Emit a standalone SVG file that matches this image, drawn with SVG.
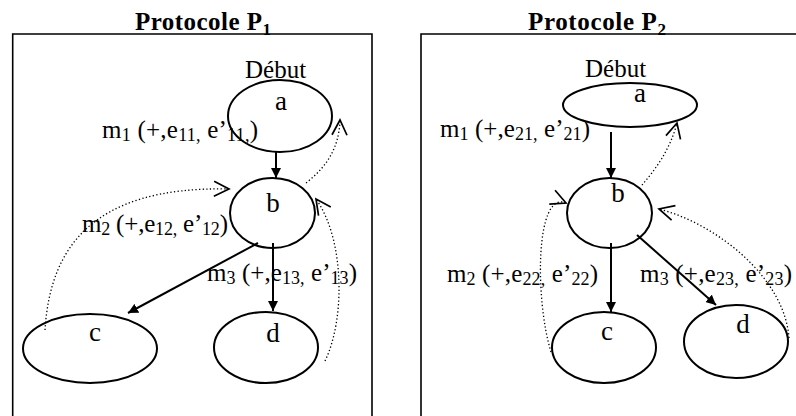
<svg xmlns="http://www.w3.org/2000/svg" width="796" height="416" viewBox="0 0 796 416">
<style>
  .frame { fill: none; stroke: #000; stroke-width: 1.6; }
  .node ellipse { fill: none; stroke: #000; stroke-width: 2; }
  .node text { font-family: "Liberation Serif", "Times New Roman", serif; font-size: 27px; fill: #000; text-anchor: middle; }
  .title { font-family: "Liberation Serif", "Times New Roman", serif; font-size: 25px; font-weight: bold; fill: #000; }
  .title .s { font-size: 17px; }
  .lbl { font-family: "Liberation Serif", "Times New Roman", serif; font-size: 25px; fill: #000; }
  .lbl .s { font-size: 18px; }
  .solid { fill: none; stroke: #000; stroke-width: 2; marker-end: url(#fa); }
  .dot { fill: none; stroke: #000; stroke-width: 1.3; stroke-dasharray: 1.3 2.3; marker-end: url(#oa); }
</style>
<defs>
  <marker id="fa" viewBox="0 0 10 10" refX="10" refY="5" markerWidth="10" markerHeight="10" markerUnits="userSpaceOnUse" orient="auto">
    <path d="M0,0 L10,5 L0,10 Z" fill="#000"/>
  </marker>
  <marker id="oa" viewBox="-16 -9 18 18" refX="0" refY="0" markerWidth="18" markerHeight="18" markerUnits="userSpaceOnUse" orient="auto">
    <path d="M-15,-7.5 L0,0 L-15,7.5" fill="none" stroke="#000" stroke-width="1.7" stroke-dasharray="none"/>
  </marker>
</defs>

<!-- frames and titles -->
<g id="panel1-frame">
  <path class="frame" d="M12.7,420 L12.7,34 L372,34 L372,420"/>
  <text class="title" x="135" y="30" textLength="136" lengthAdjust="spacing">Protocole P<tspan class="s" dy="5">1</tspan></text>
</g>
<g id="panel2-frame">
  <path class="frame" d="M421,420 L421,34 L800,34"/>
  <text class="title" x="528" y="30" textLength="138" lengthAdjust="spacing">Protocole P<tspan class="s" dy="5">2</tspan></text>
</g>

<!-- Protocole P1 nodes -->
<g id="p1-debut"><text class="lbl" x="245" y="78">Début</text></g>
<g id="p1-a" class="node"><ellipse cx="280" cy="116" rx="52" ry="36"/><text x="281" y="110">a</text></g>
<g id="p1-b" class="node"><ellipse cx="272.5" cy="213" rx="42.5" ry="35"/><text x="273" y="212">b</text></g>
<g id="p1-c" class="node"><ellipse cx="90" cy="348.5" rx="67" ry="34.5"/><text x="95" y="341">c</text></g>
<g id="p1-d" class="node"><ellipse cx="266" cy="347.5" rx="52" ry="35.5"/><text x="273" y="342">d</text></g>

<!-- Protocole P2 nodes -->
<g id="p2-debut"><text class="lbl" x="585" y="77">Début</text></g>
<g id="p2-a" class="node"><ellipse cx="630" cy="105" rx="67" ry="22"/><text x="640" y="102">a</text></g>
<g id="p2-b" class="node"><ellipse cx="609.5" cy="213" rx="42.5" ry="35"/><text x="618" y="202">b</text></g>
<g id="p2-c" class="node"><ellipse cx="604" cy="347.5" rx="52" ry="35.5"/><text x="607" y="340">c</text></g>
<g id="p2-d" class="node"><ellipse cx="736" cy="341.5" rx="52" ry="36.5"/><text x="743" y="333">d</text></g>

<!-- connectors -->
<g id="connectors">
  <!-- P1 -->
  <line class="solid" x1="276" y1="152" x2="276" y2="178"/>
  <line class="solid" x1="258" y1="243" x2="128" y2="313"/>
  <line class="solid" x1="273" y1="243" x2="273" y2="311"/>
  <path class="dot" d="M306,183 C325,168 339,150 340,120"/>
  <path class="dot" d="M45,330 C50,250 90,186 229,189"/>
  <path class="dot" d="M325,361 C345,320 345,240 316,199"/>
  <!-- P2 -->
  <line class="solid" x1="611" y1="132" x2="611" y2="178"/>
  <line class="solid" x1="611" y1="243" x2="611" y2="312"/>
  <line class="solid" x1="637" y1="235" x2="716" y2="305"/>
  <path class="dot" d="M642,185 C655,170 670,150 677,123"/>
  <path class="dot" d="M551,352 C535,300 535,190 566,203"/>
  <path class="dot" d="M789,338 C785,280 720,225 659,209"/>
</g>

<!-- connector labels -->
<g id="labels">
  <text class="lbl" x="102" y="138" textLength="156" lengthAdjust="spacing">m<tspan class="s" dy="3">1</tspan><tspan dy="-3"> (+,e</tspan><tspan class="s" dy="3">11,</tspan><tspan dy="-3"> e’</tspan><tspan class="s" dy="3">11,</tspan><tspan dy="-3">)</tspan></text>
  <text class="lbl" x="82" y="232" textLength="146" lengthAdjust="spacing">m<tspan class="s" dy="3">2</tspan><tspan dy="-3"> (+,e</tspan><tspan class="s" dy="3">12,</tspan><tspan dy="-3"> e’</tspan><tspan class="s" dy="3">12</tspan><tspan dy="-3">)</tspan></text>
  <text class="lbl" x="207" y="281" textLength="150" lengthAdjust="spacing">m<tspan class="s" dy="3">3</tspan><tspan dy="-3"> (+,e</tspan><tspan class="s" dy="3">13,</tspan><tspan dy="-3"> e’</tspan><tspan class="s" dy="3">13</tspan><tspan dy="-3">)</tspan></text>
  <text class="lbl" x="440" y="137" textLength="150" lengthAdjust="spacing">m<tspan class="s" dy="3">1</tspan><tspan dy="-3"> (+,e</tspan><tspan class="s" dy="3">21,</tspan><tspan dy="-3"> e’</tspan><tspan class="s" dy="3">21</tspan><tspan dy="-3">)</tspan></text>
  <text class="lbl" x="447" y="282" textLength="151" lengthAdjust="spacing">m<tspan class="s" dy="3">2</tspan><tspan dy="-3"> (+,e</tspan><tspan class="s" dy="3">22,</tspan><tspan dy="-3"> e’</tspan><tspan class="s" dy="3">22</tspan><tspan dy="-3">)</tspan></text>
  <text class="lbl" x="640" y="282" textLength="152" lengthAdjust="spacing">m<tspan class="s" dy="3">3</tspan><tspan dy="-3"> (+,e</tspan><tspan class="s" dy="3">23,</tspan><tspan dy="-3"> e’</tspan><tspan class="s" dy="3">23</tspan><tspan dy="-3">)</tspan></text>
</g>
</svg>
